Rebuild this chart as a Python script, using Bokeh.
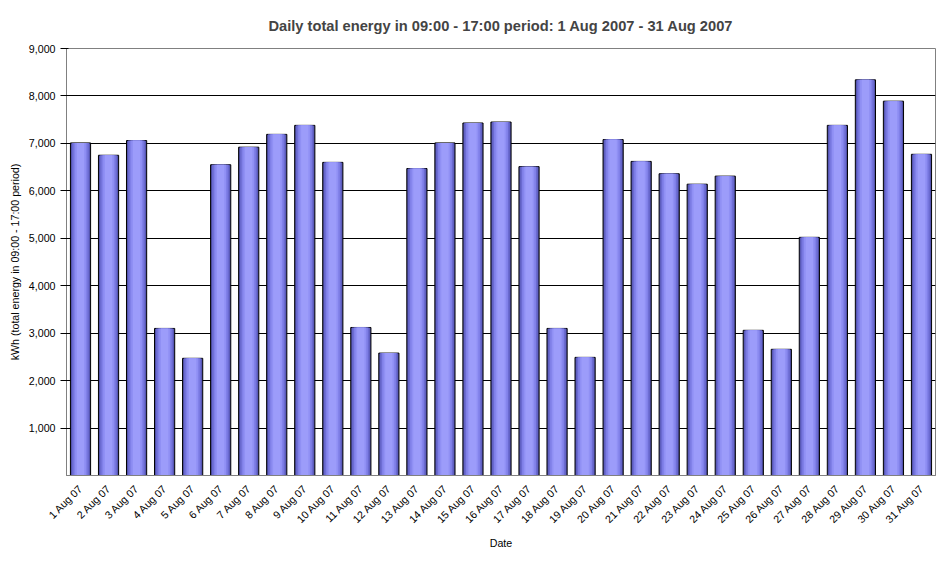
from bokeh.plotting import figure
from bokeh.models import NumeralTickFormatter, FixedTicker, Range1d
from bokeh.embed import file_html
from bokeh.resources import INLINE

days = [f"{d} Aug 07" for d in range(1, 32)]
energy = [7010, 6750, 7060, 3100, 2470, 6550, 6920, 7190, 7380, 6600,
          3120, 2580, 6470, 7010, 7430, 7450, 6510, 3100, 2490, 7080,
          6620, 6360, 6140, 6310, 3060, 2660, 5020, 7380, 8340, 7890, 6770]

p = figure(x_range=days, y_range=Range1d(0, 9000), width=940, height=552,
           output_backend="svg", toolbar_location=None,
           title="Daily total energy in 09:00 - 17:00 period: 1 Aug 2007 - 31 Aug 2007",
           x_axis_label="Date", y_axis_label="kWh (total energy in 09:00 - 17:00 period)")

p.title.align = "center"
p.title.text_font = "Liberation Sans"
p.title.text_font_size = "11pt"
p.title.text_font_style = "bold"
p.title.standoff = 30
p.min_border_top = 6
p.min_border_left = 66

# fake horizontal shading: darker base, lighter stripes stacked on top
p.vbar(x=days, top=energy, width=0.72, fill_color="#5050a8", line_color="#000000", line_width=1)
shades = [(0.62, "#6a6ad0"), (0.5, "#8080e8"), (0.38, "#9090f4"), (0.26, "#9c9cfa")]
for w, c in shades:
    p.vbar(x=days, top=energy, width=w, fill_color=c, line_color=None, bottom=8)

p.yaxis.ticker = FixedTicker(ticks=list(range(1000, 9001, 1000)))
p.yaxis.formatter = NumeralTickFormatter(format="0,0")
p.xaxis.major_label_orientation = 0.785
p.xaxis.major_tick_line_color = None
p.axis.major_label_text_font = "Liberation Sans"
p.axis.major_label_text_font_size = "8pt"
p.axis.major_label_text_color = "#000000"
p.axis.axis_label_text_font = "Liberation Sans"
p.axis.axis_label_text_font_size = "8pt"
p.axis.axis_label_text_font_style = "normal"
p.axis.axis_label_text_color = "#000000"
p.axis.minor_tick_line_color = None
p.axis.axis_line_color = "#808080"

p.xgrid.grid_line_color = None
p.ygrid.grid_line_color = "#000000"
p.ygrid.ticker = FixedTicker(ticks=list(range(1000, 9001, 1000)))
p.outline_line_color = "#808080"
p.x_range.range_padding = 0.0

open("out.html", "w").write(file_html(p, INLINE))
